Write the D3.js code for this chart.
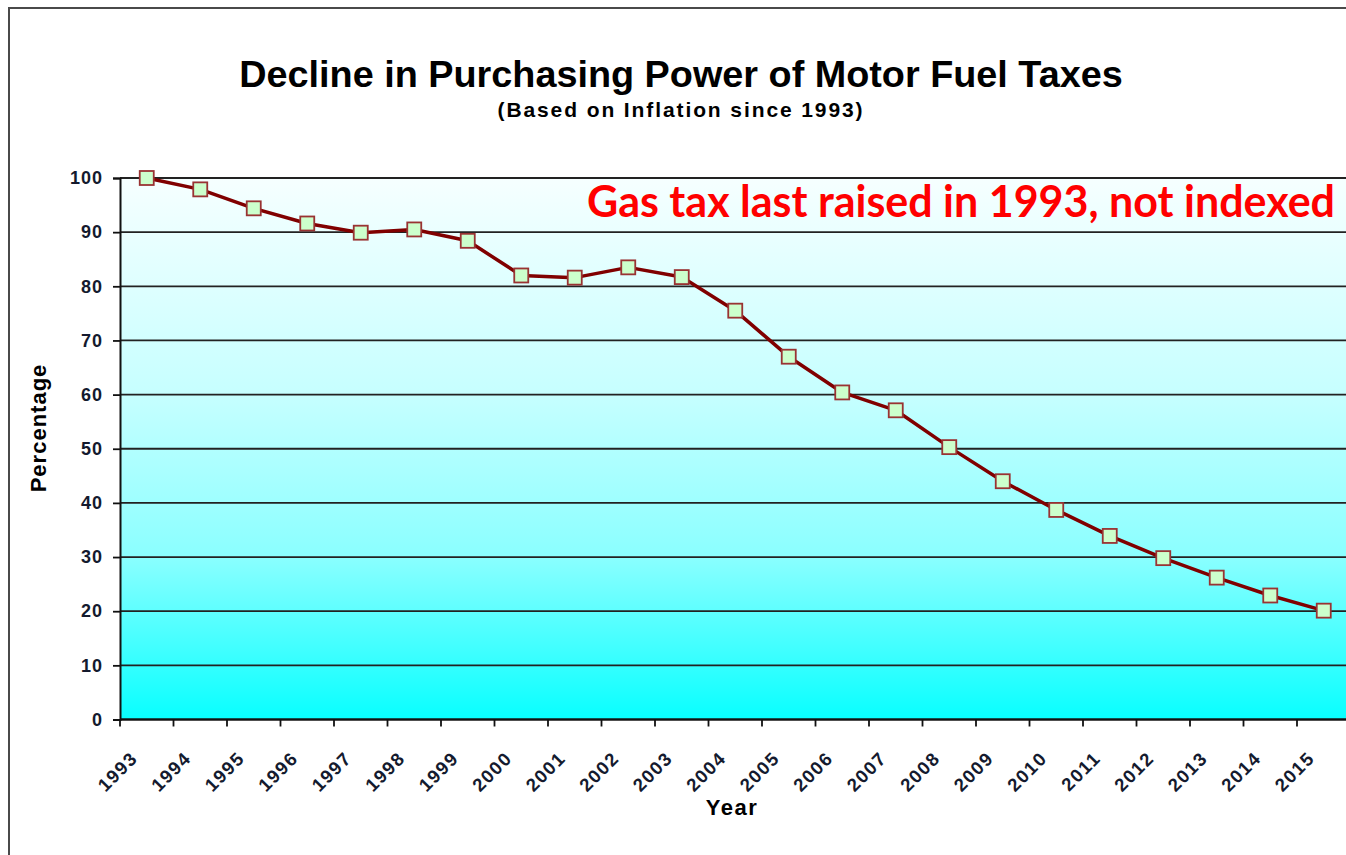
<!DOCTYPE html>
<html>
<head>
<meta charset="utf-8">
<style>
  body { margin: 0; background: #fff; }
  svg { display: block; font-family: "Liberation Sans", Arial, sans-serif; }
</style>
</head>
<body>
<svg width="1346" height="855"></svg>
<script src="https://cdn.jsdelivr.net/npm/d3@7"></script>
<script>
// Data
var years = ["1993", "1994", "1995", "1996", "1997", "1998", "1999", "2000", "2001", "2002", "2003", "2004",
  "2005", "2006", "2007", "2008", "2009", "2010", "2011", "2012", "2013", "2014", "2015"];
var percentage = [100, 97.9, 94.4, 91.6, 89.9, 90.5, 88.4, 82.0, 81.6, 83.5, 81.7, 75.5,
  67.0, 60.4, 57.1, 50.3, 44.0, 38.7, 33.9, 29.8, 26.2, 22.9, 20.1];
var yTicks = [0, 10, 20, 30, 40, 50, 60, 70, 80, 90, 100];

// svg and margins
var svg = d3.select("svg"),
    margin = {top: 178, right: -4.5, bottom: 135.5, left: 120},
    width = svg.attr("width") - margin.left - margin.right,
    height = svg.attr("height") - margin.top - margin.bottom,
    g = svg.append("g").attr("transform", "translate(" + margin.left + "," + margin.top + ")");

// outer frame, runs off the right and bottom edge
svg.append("rect")
    .attr("x", 9)
    .attr("y", 8)
    .attr("width", 1400)
    .attr("height", 900)
    .attr("fill", "none")
    .attr("stroke", "#4a4a4a")
    .attr("stroke-width", 2);

// scales
var x = d3.scaleBand()
    .domain(years)
    .range([0, width])
    .padding(0);

var y = d3.scaleLinear()
    .domain([0, 100])
    .range([height, 0]);

// background gradient of the plot area (light on top, cyan at the bottom)
var grad = svg.append("defs").append("linearGradient")
    .attr("id", "bg")
    .attr("x1", 0).attr("y1", 0).attr("x2", 0).attr("y2", 1);
grad.append("stop").attr("offset", "0%").attr("stop-color", "#f6ffff");
grad.append("stop").attr("offset", "40%").attr("stop-color", "#c6ffff");
grad.append("stop").attr("offset", "70%").attr("stop-color", "#8affff");
grad.append("stop").attr("offset", "100%").attr("stop-color", "#08ffff");

g.append("rect")
    .attr("width", width)
    .attr("height", height)
    .attr("fill", "url(#bg)");

// horizontal gridlines
g.append("g")
    .selectAll("line")
    .data(yTicks)
    .enter().append("line")
    .attr("x1", 0)
    .attr("x2", width)
    .attr("y1", function(d) { return y(d); })
    .attr("y2", function(d) { return y(d); })
    .attr("stroke", "#222")
    .attr("stroke-width", 1.8);

// y axis
var yAxis = g.append("g")
    .call(d3.axisLeft(y).tickValues(yTicks).tickSize(7).tickPadding(10));
yAxis.select(".domain").attr("stroke", "#111").attr("stroke-width", 2);
yAxis.selectAll(".tick line").attr("stroke", "#111").attr("stroke-width", 1.8);
yAxis.selectAll(".tick text")
    .attr("font-size", 18)
    .attr("font-weight", "bold")
    .attr("letter-spacing", 1)
    .attr("fill", "#141a2e");

// x axis: ticks sit on the band boundaries, labels in the middle of the band
var xAxis = g.append("g").attr("transform", "translate(0," + height + ")");
xAxis.append("line")
    .attr("x1", 0)
    .attr("x2", width)
    .attr("stroke", "#111")
    .attr("stroke-width", 2);
xAxis.selectAll(".xtick")
    .data(years)
    .enter().append("line")
    .attr("class", "xtick")
    .attr("x1", function(d) { return x(d); })
    .attr("x2", function(d) { return x(d); })
    .attr("y1", 0)
    .attr("y2", 7)
    .attr("stroke", "#111")
    .attr("stroke-width", 1.8);
xAxis.selectAll(".xlabel")
    .data(years)
    .enter().append("text")
    .attr("class", "xlabel")
    .attr("text-anchor", "end")
    .attr("font-size", 18.5)
    .attr("font-weight", "bold")
    .attr("letter-spacing", 1.5)
    .attr("fill", "#141a2e")
    .attr("transform", function(d) {
      return "translate(" + (x(d) + x.bandwidth() / 2 - 8) + ",40) rotate(-45)";
    })
    .text(function(d) { return d; });

// line
var line = d3.line()
    .x(function(d, i) { return x(years[i]) + x.bandwidth() / 2; })
    .y(function(d) { return y(d); });

g.append("path")
    .datum(percentage)
    .attr("fill", "none")
    .attr("stroke", "#800000")
    .attr("stroke-width", 3.5)
    .attr("stroke-linejoin", "round")
    .attr("d", line);

// square markers
g.append("g")
    .selectAll("rect")
    .data(percentage)
    .enter().append("rect")
    .attr("x", function(d, i) { return x(years[i]) + x.bandwidth() / 2 - 7; })
    .attr("y", function(d) { return y(d) - 7; })
    .attr("width", 14)
    .attr("height", 14)
    .attr("fill", "#ccffcc")
    .attr("stroke", "#993333")
    .attr("stroke-width", 1.8);

// titles
svg.append("text")
    .attr("x", 681)
    .attr("y", 87)
    .attr("text-anchor", "middle")
    .attr("font-size", 37.8)
    .attr("font-weight", "bold")
    .attr("fill", "#000")
    .text("Decline in Purchasing Power of Motor Fuel Taxes");

svg.append("text")
    .attr("x", 681)
    .attr("y", 117)
    .attr("text-anchor", "middle")
    .attr("font-size", 21)
    .attr("font-weight", "bold")
    .attr("letter-spacing", 1.9)
    .attr("fill", "#000")
    .text("(Based on Inflation since 1993)");

// axis titles
svg.append("text")
    .attr("transform", "translate(46,428) rotate(-90)")
    .attr("text-anchor", "middle")
    .attr("font-size", 22)
    .attr("font-weight", "bold")
    .attr("letter-spacing", 1)
    .attr("fill", "#000")
    .text("Percentage");

svg.append("text")
    .attr("x", 732)
    .attr("y", 815)
    .attr("text-anchor", "middle")
    .attr("font-size", 22)
    .attr("font-weight", "bold")
    .attr("letter-spacing", 1.5)
    .attr("fill", "#000")
    .text("Year");

// red annotation
svg.append("text")
    .attr("x", 587)
    .attr("y", 217)
    .attr("font-family", "Lato, 'Open Sans', sans-serif")
    .attr("font-size", 43)
    .attr("font-weight", "bold")
    .attr("fill", "#ff0000")
    .text("Gas tax last raised in 1993, not indexed");
</script>
</body>
</html>
